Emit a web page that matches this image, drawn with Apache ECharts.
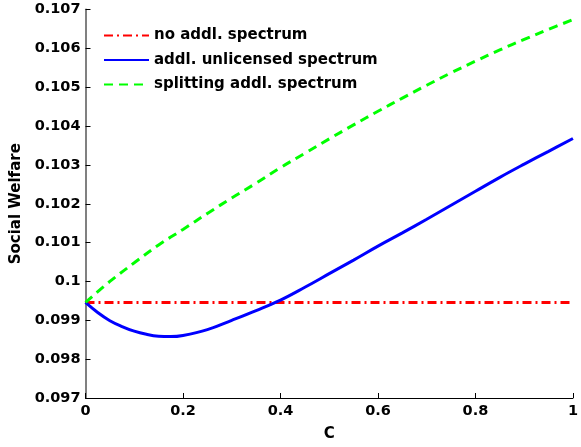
<!DOCTYPE html>
<html>
<head>
<meta charset="utf-8">
<script src="https://cdn.jsdelivr.net/npm/echarts@6/dist/echarts.min.js"></script>
<style>html,body{margin:0;padding:0;background:#fff}#c{width:581px;height:447px}</style>
</head>
<body>
<div id="c"></div>
<script>
var seriesNames = ['no addl. spectrum', 'addl. unlicensed spectrum', 'splitting addl. spectrum'];
var cFlat = [0, 1];
var noAddl = [0.099456, 0.099456];
var cBlue = [0, 0.025, 0.05, 0.075, 0.1, 0.125, 0.15, 0.175, 0.2, 0.25, 0.3, 0.35, 0.4, 0.45, 0.5, 0.55, 0.6, 0.65, 0.7, 0.75, 0.8, 0.85, 0.9, 0.95, 1.0];
var unlicensed = [0.09946, 0.09920, 0.09899, 0.09884, 0.09872, 0.09864, 0.09859, 0.09858, 0.09861, 0.09876, 0.09900, 0.09925, 0.09952, 0.09985, 0.10020, 0.10055, 0.10091, 0.10125, 0.10160, 0.10196, 0.10232, 0.10268, 0.10302, 0.10335, 0.10368];
var cGreen = [0, 0.05, 0.1, 0.15, 0.2, 0.25, 0.3, 0.35, 0.4, 0.45, 0.5, 0.55, 0.6, 0.65, 0.7, 0.75, 0.8, 0.85, 0.9, 0.95, 1.0];
var splitting = [0.09946, 0.10000, 0.10048, 0.10094, 0.10134, 0.10175, 0.10215, 0.10253, 0.10293, 0.10330, 0.10367, 0.10403, 0.10438, 0.10472, 0.10505, 0.10537, 0.10567, 0.10596, 0.10623, 0.10649, 0.10674];
var xTicks = [0, 0.2, 0.4, 0.6, 0.8, 1];
var yTicks = [0.097, 0.098, 0.099, 0.1, 0.101, 0.102, 0.103, 0.104, 0.105, 0.106, 0.107];

function pairs(xs, ys) { return xs.map(function (x, i) { return [x, ys[i]]; }); }

var font = 'DejaVu Sans';
var chart = echarts.init(document.getElementById('c'), null, {renderer: 'canvas'});
chart.setOption({
  animation: false,
  backgroundColor: '#fff',
  grid: {left: 85.5, right: 2, top: 9.5, bottom: 47.5, containLabel: false},
  legend: {
    orient: 'vertical', left: 103, top: 28, padding: 0, itemWidth: 45, itemHeight: 14, itemGap: 9.5,
    itemStyle: {opacity: 0},
    textStyle: {fontFamily: font, fontWeight: 'bold', fontSize: 15, color: '#000'},
    data: seriesNames
  },
  xAxis: {
    type: 'value', min: 0, max: 1, interval: 0.2,
    name: 'C', nameLocation: 'middle', nameGap: 29,
    nameTextStyle: {fontFamily: font, fontWeight: 'bold', fontSize: 15, color: '#000'},
    axisLine: {show: true, onZero: false, lineStyle: {color: '#000', width: 1}},
    axisTick: {show: true, inside: true, length: 5, lineStyle: {color: '#000'}},
    axisLabel: {fontFamily: font, fontWeight: 'bold', fontSize: 14.5, color: '#000', margin: 6,
      formatter: function (v) { return String(+v.toFixed(1)); }},
    splitLine: {show: false}
  },
  yAxis: {
    type: 'value', min: 0.097, max: 0.107, interval: 0.001,
    name: 'Social Welfare', nameLocation: 'middle', nameGap: 59, nameRotate: 90,
    nameTextStyle: {fontFamily: font, fontWeight: 'bold', fontSize: 15, color: '#000'},
    axisLine: {show: true, lineStyle: {color: '#808080', width: 2}},
    axisTick: {show: true, inside: true, length: 5, lineStyle: {color: '#000'}},
    axisLabel: {fontFamily: font, fontWeight: 'bold', fontSize: 14.5, color: '#000', margin: 5,
      formatter: function (v) { return String(+v.toFixed(3)); }},
    splitLine: {show: false}
  },
  series: [
    {name: seriesNames[0], type: 'line', data: pairs(cFlat, noAddl), showSymbol: false, symbol: 'none',
      lineStyle: {color: '#ff0000', width: 3, type: [9, 4, 2, 4]}, itemStyle: {color: '#ff0000'}, z: 3},
    {name: seriesNames[1], type: 'line', data: pairs(cBlue, unlicensed), showSymbol: false, symbol: 'none', smooth: 0.4,
      lineStyle: {color: '#0000ff', width: 3, type: 'solid'}, itemStyle: {color: '#0000ff'}, z: 4},
    {name: seriesNames[2], type: 'line', data: pairs(cGreen, splitting), showSymbol: false, symbol: 'none', smooth: 0.4,
      lineStyle: {color: '#00ff00', width: 3, type: [9, 6]}, itemStyle: {color: '#00ff00'}, z: 5}
  ]
});
</script>
</body>
</html>
